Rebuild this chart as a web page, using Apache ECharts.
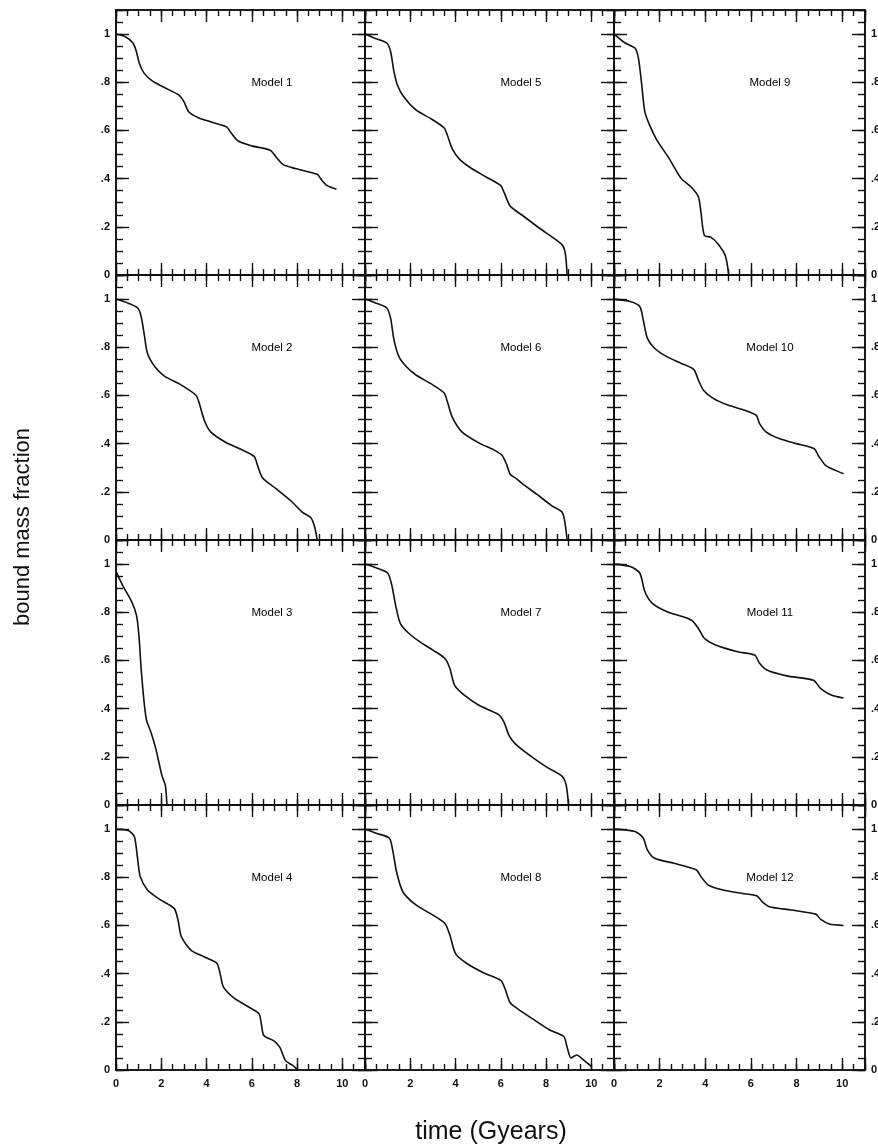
<!DOCTYPE html>
<html>
<head>
<meta charset="utf-8">
<script src="https://cdn.jsdelivr.net/npm/echarts@6/dist/echarts.min.js"></script>
<style>
	html, body { margin: 0; padding: 0; background: #fff; }
	#chart { width: 878px; height: 1148px; }
</style>
</head>
<body>
<div id="chart"></div>
<script>
// bound mass fraction vs time (Gyr), one array per model
var model1 = [[0,1],[0.43,0.988],[0.75,0.963],[0.9,0.928],[1.03,0.879],[1.24,0.838],[1.6,0.806],[2.14,0.778],[2.78,0.747],[3.0,0.72],[3.21,0.678],[3.64,0.653],[4.28,0.633],[4.88,0.615],[5.1,0.588],[5.4,0.556],[6.0,0.536],[6.81,0.518],[7.07,0.49],[7.39,0.458],[7.92,0.442],[8.89,0.418],[9.04,0.4],[9.31,0.372],[9.74,0.356]];
var model2 = [[0,1],[0.54,0.983],[0.96,0.963],[1.11,0.928],[1.24,0.858],[1.39,0.775],[1.71,0.72],[2.14,0.68],[2.89,0.643],[3.53,0.601],[3.68,0.567],[3.9,0.497],[4.18,0.449],[4.82,0.407],[5.46,0.379],[6.1,0.347],[6.25,0.31],[6.47,0.258],[7.07,0.213],[7.71,0.164],[8.24,0.115],[8.61,0.092],[8.78,0.053],[8.89,0]];
var model3 = [[0,0.97],[0.32,0.907],[0.69,0.844],[0.9,0.789],[1.01,0.706],[1.11,0.567],[1.24,0.428],[1.35,0.351],[1.54,0.303],[1.76,0.233],[2.03,0.122],[2.18,0.081],[2.25,0]];
var model4 = [[0,1],[0.54,0.994],[0.81,0.969],[0.96,0.872],[1.07,0.803],[1.39,0.747],[1.93,0.708],[2.57,0.671],[2.74,0.622],[2.89,0.553],[3.32,0.497],[3.96,0.467],[4.45,0.444],[4.6,0.4],[4.75,0.344],[5.25,0.296],[6.0,0.254],[6.32,0.233],[6.42,0.192],[6.53,0.143],[6.96,0.122],[7.24,0.094],[7.49,0.039],[7.82,0.018],[8.03,0]];
var model5 = [[0,1],[0.43,0.983],[0.96,0.963],[1.13,0.928],[1.28,0.844],[1.43,0.789],[1.71,0.74],[2.25,0.685],[2.89,0.65],[3.49,0.611],[3.64,0.58],[3.85,0.525],[4.18,0.48],[4.71,0.442],[5.35,0.407],[5.99,0.372],[6.14,0.344],[6.42,0.285],[6.96,0.247],[7.71,0.194],[8.67,0.129],[8.84,0.094],[8.93,0]];
var model6 = [[0,1],[0.49,0.983],[0.96,0.963],[1.13,0.921],[1.28,0.831],[1.5,0.761],[1.82,0.72],[2.25,0.685],[2.89,0.65],[3.49,0.611],[3.64,0.574],[3.85,0.511],[4.28,0.449],[5.03,0.403],[5.67,0.375],[6.06,0.351],[6.27,0.31],[6.42,0.272],[6.7,0.254],[6.96,0.233],[7.6,0.189],[8.24,0.143],[8.71,0.115],[8.84,0.067],[8.93,0]];
var model7 = [[0,1],[0.54,0.983],[1.0,0.963],[1.18,0.914],[1.35,0.831],[1.56,0.754],[1.93,0.713],[2.46,0.675],[3.0,0.643],[3.53,0.608],[3.75,0.567],[3.96,0.497],[4.39,0.456],[5.03,0.414],[5.89,0.376],[6.14,0.344],[6.36,0.289],[6.64,0.254],[7.28,0.206],[8.03,0.157],[8.71,0.119],[8.89,0.081],[8.99,0]];
var model8 = [[0,1],[0.49,0.983],[1.07,0.963],[1.22,0.914],[1.39,0.824],[1.67,0.74],[2.25,0.685],[3.0,0.643],[3.53,0.608],[3.75,0.56],[4.0,0.483],[4.5,0.442],[5.25,0.403],[6.0,0.372],[6.21,0.331],[6.42,0.278],[6.75,0.254],[7.39,0.213],[8.14,0.167],[8.78,0.139],[8.93,0.094],[9.1,0.05],[9.35,0.062],[9.65,0.042],[10.0,0.015]];
var model9 = [[0,1],[0.49,0.963],[0.92,0.942],[1.07,0.9],[1.2,0.803],[1.35,0.678],[1.56,0.622],[1.88,0.56],[2.42,0.483],[2.95,0.4],[3.38,0.365],[3.7,0.324],[3.81,0.261],[3.96,0.164],[4.24,0.157],[4.56,0.129],[4.88,0.08],[5.03,0]];
var model10 = [[0,1],[0.71,0.99],[1.13,0.969],[1.28,0.914],[1.46,0.838],[1.78,0.796],[2.31,0.761],[2.95,0.733],[3.49,0.708],[3.7,0.664],[3.92,0.622],[4.35,0.588],[4.99,0.56],[5.63,0.542],[6.23,0.518],[6.38,0.483],[6.66,0.449],[7.24,0.421],[7.99,0.4],[8.78,0.379],[8.95,0.351],[9.27,0.31],[9.7,0.289],[10.06,0.275]];
var model11 = [[0,1],[0.71,0.99],[1.13,0.963],[1.35,0.886],[1.67,0.838],[2.31,0.803],[3.38,0.768],[3.7,0.733],[3.96,0.692],[4.45,0.664],[5.42,0.636],[6.17,0.622],[6.38,0.588],[6.7,0.56],[7.56,0.536],[8.74,0.518],[9.06,0.483],[9.49,0.458],[10.06,0.444]];
var model12 = [[0,1],[0.92,0.99],[1.28,0.963],[1.46,0.914],[1.78,0.879],[2.63,0.858],[3.6,0.831],[3.81,0.803],[4.13,0.768],[4.78,0.747],[5.63,0.733],[6.27,0.722],[6.49,0.699],[6.81,0.678],[7.77,0.664],[8.84,0.647],[9.06,0.625],[9.44,0.606],[10.06,0.6]];

var models = [model1, model2, model3, model4, model5, model6, model7, model8, model9, model10, model11, model12];
var modelNames = ['Model 1','Model 2','Model 3','Model 4','Model 5','Model 6','Model 7','Model 8','Model 9','Model 10','Model 11','Model 12'];

var xTickValues = [0, 2, 4, 6, 8, 10];
var xTickLabels = ['0', '2', '4', '6', '8', '10'];
var yTickValues = [0, 0.2, 0.4, 0.6, 0.8, 1];
var yTickLabels = ['0', '.2', '.4', '.6', '.8', '1'];

var xTitle = 'time (Gyears)';
var yTitle = 'bound mass fraction';

// panel layout (px) - columns share their border line
var colLeft = [116, 365, 614];
var colWidth = [249, 249, 251];
var rowTop = [10, 275, 540, 805];
var rowHeight = 265;

var FONT = '"Liberation Sans", Arial, Helvetica, sans-serif';
var INK = '#111';

function fmtX(v) {
	for (var i = 0; i < xTickValues.length; i++) {
		if (Math.abs(v - xTickValues[i]) < 1e-6) return xTickLabels[i];
	}
	return '';
}
function fmtY(v) {
	for (var i = 0; i < yTickValues.length; i++) {
		if (Math.abs(v - yTickValues[i]) < 1e-6) return yTickLabels[i];
	}
	return '';
}

function makeAxis(kind, g, pos, interval, len, showLabel) {
	var a = {
		type: 'value',
		gridIndex: g,
		position: pos,
		min: 0,
		max: kind == 'x' ? 11 : 1.1,
		interval: interval,
		axisLine: { show: true, onZero: false, lineStyle: { color: INK, width: 1.6 } },
		axisTick: { show: true, inside: true, length: len, lineStyle: { color: INK, width: 1.4 } },
		axisLabel: {
			show: showLabel,
			interval: 0,
			color: INK,
			fontFamily: FONT,
			fontWeight: 'bold',
			fontSize: 11,
			margin: kind == 'x' ? 8 : 6,
			formatter: kind == 'x' ? fmtX : fmtY
		},
		splitLine: { show: false }
	};
	return a;
}

var grids = [], xAxes = [], yAxes = [], series = [], graphics = [];

for (var n = 0; n < 12; n++) {
	var c = Math.floor(n / 4);
	var r = n % 4;
	grids.push({
		left: colLeft[c],
		top: rowTop[r],
		width: colWidth[c],
		height: rowHeight,
		containLabel: false,
		outerBoundsMode: 'none'
	});
	// x axes: bottom minor, bottom major, top minor, top major
	xAxes.push(makeAxis('x', n, 'bottom', 0.5, 6, false));
	xAxes.push(makeAxis('x', n, 'bottom', 2, 12, r == 3));
	xAxes.push(makeAxis('x', n, 'top', 0.5, 6, false));
	xAxes.push(makeAxis('x', n, 'top', 2, 12, false));
	// y axes: left minor, left major, right minor, right major
	yAxes.push(makeAxis('y', n, 'left', 0.05, 7, false));
	yAxes.push(makeAxis('y', n, 'left', 0.2, 13, c == 0));
	yAxes.push(makeAxis('y', n, 'right', 0.05, 7, false));
	yAxes.push(makeAxis('y', n, 'right', 0.2, 13, c == 2));

	series.push({
		name: modelNames[n],
		type: 'line',
		xAxisIndex: n * 4 + 1,
		yAxisIndex: n * 4 + 1,
		data: models[n],
		showSymbol: false,
		smooth: 0.25,
		lineStyle: { color: INK, width: 1.6 },
		silent: true
	});

	graphics.push({
		type: 'text',
		x: colLeft[c] + 156,
		y: rowTop[r] + 73,
		style: {
			text: modelNames[n],
			fill: '#000',
			font: '11.5px ' + FONT,
			align: 'center',
			verticalAlign: 'middle'
		}
	});
}

graphics.push({
	type: 'text',
	x: 23,
	y: 527,
	rotation: Math.PI / 2,
	style: { text: yTitle, fill: INK, font: '22px ' + FONT, align: 'center', verticalAlign: 'middle' }
});
graphics.push({
	type: 'text',
	x: 491,
	y: 1132,
	style: { text: xTitle, fill: INK, font: '25px ' + FONT, align: 'center', verticalAlign: 'middle' }
});

var chart = echarts.init(document.getElementById('chart'), null, { renderer: 'canvas' });
chart.setOption({
	animation: false,
	backgroundColor: '#fff',
	grid: grids,
	xAxis: xAxes,
	yAxis: yAxes,
	series: series,
	graphic: graphics
});
</script>
</body>
</html>
